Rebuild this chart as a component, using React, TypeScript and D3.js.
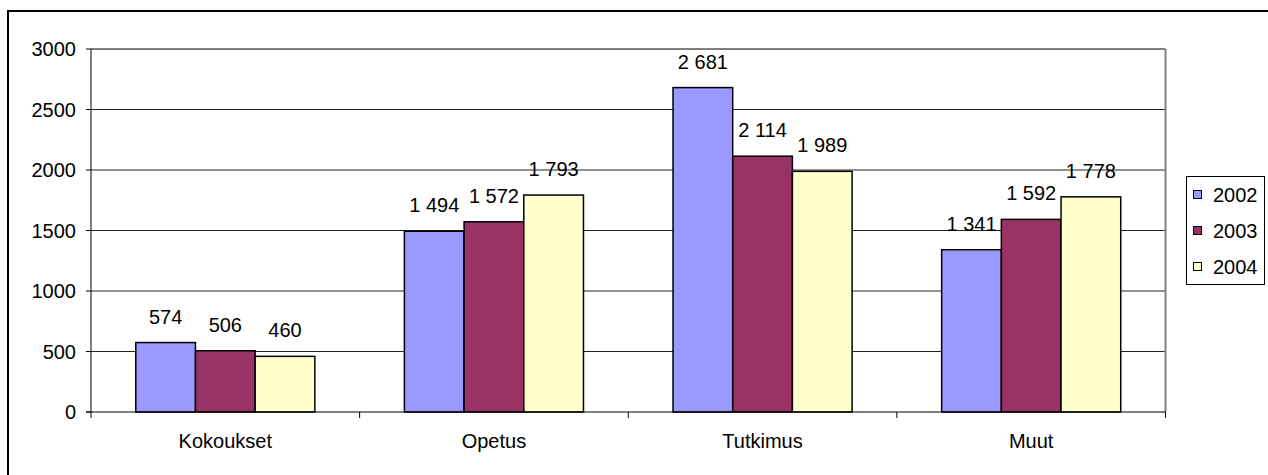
import React from "react";
import * as d3 from "d3";

const categories = ["Kokoukset", "Opetus", "Tutkimus", "Muut"];
const seriesNames = ["2002", "2003", "2004"];
const values2002 = [574, 1494, 2681, 1341];
const values2003 = [506, 1572, 2114, 1592];
const values2004 = [460, 1793, 1989, 1778];
const yTicks = [0, 500, 1000, 1500, 2000, 2500, 3000];
const colors = ["#9999FF", "#993366", "#FFFFCC"];

const W = 1268;
const H = 475;
const left = 91;
const right = 1165.5;
const top = 49;
const bottom = 412;
const FONT = "'Liberation Sans', Arial, sans-serif";

export default function App() {
  const series = [values2002, values2003, values2004];
  const x = d3.scaleBand<string>().domain(categories).range([left, right]).paddingInner(0).paddingOuter(0);
  const y = d3.scaleLinear().domain([0, 3000]).range([bottom, top]);
  const bw = x.bandwidth() / 4.5;
  const fmt = (v: number) => d3.format(",")(v).replace(/,/g, " ");

  return (
    <svg width={W} height={H} style={{ position: "absolute", left: 0, top: 0 }} fontFamily={FONT}>
      <rect x={0} y={0} width={W} height={H} fill="#fff" />
      <rect x={8} y={11} width={W + 10} height={H + 10} fill="none" stroke="#000" strokeWidth={2} />
      {yTicks.filter((t) => t > 0 && t < 3000).map((t) => (
        <line key={t} x1={left} x2={right} y1={y(t)} y2={y(t)} stroke="#222" strokeWidth={1} />
      ))}
      <line x1={left} x2={right} y1={top} y2={top} stroke="#808080" strokeWidth={2} />
      <line x1={right} x2={right} y1={top} y2={bottom} stroke="#808080" strokeWidth={2} />
      {categories.map((c, ci) => {
        const x0 = (x(c) as number) + x.bandwidth() / 2 - 1.5 * bw;
        return series.map((s, si) => (
          <g key={c + si}>
            <rect
              x={x0 + si * bw}
              y={y(s[ci])}
              width={bw}
              height={bottom - y(s[ci])}
              fill={colors[si]}
              stroke="#000"
              strokeWidth={1.5}
            />
            <text x={x0 + si * bw + bw / 2} y={y(s[ci]) - 19} textAnchor="middle" fontSize={20} fill="#000">
              {fmt(s[ci])}
            </text>
          </g>
        ));
      })}
      <line x1={left} x2={left} y1={top} y2={bottom + 0.5} stroke="#000" strokeWidth={1} />
      <line x1={left - 5} x2={right} y1={bottom} y2={bottom} stroke="#000" strokeWidth={1} />
      {yTicks.map((t) => (
        <g key={t}>
          <line x1={left - 5} x2={left} y1={y(t)} y2={y(t)} stroke="#000" strokeWidth={1} />
          <text x={76} y={y(t)} dy="0.36em" textAnchor="end" fontSize={20} fill="#000">
            {t}
          </text>
        </g>
      ))}
      {categories.map((c, ci) => (
        <g key={c}>
          <line x1={(x(c) as number) + x.bandwidth()} x2={(x(c) as number) + x.bandwidth()} y1={bottom} y2={bottom + 6} stroke="#000" />
          {ci === 0 && <line x1={left} x2={left} y1={bottom} y2={bottom + 6} stroke="#000" />}
          <text x={(x(c) as number) + x.bandwidth() / 2} y={448} textAnchor="middle" fontSize={20} fill="#000">
            {c}
          </text>
        </g>
      ))}
      <rect x={1186.5} y={176.5} width={78} height={108} fill="#fff" stroke="#000" strokeWidth={1} />
      {seriesNames.map((n, i) => (
        <g key={n}>
          <rect x={1193.5} y={190.5 + i * 36} width={8} height={8} fill={colors[i]} stroke="#000" strokeWidth={1} />
          <text x={1213} y={201.5 + i * 36} fontSize={20} fill="#000">
            {n}
          </text>
        </g>
      ))}
    </svg>
  );
}
